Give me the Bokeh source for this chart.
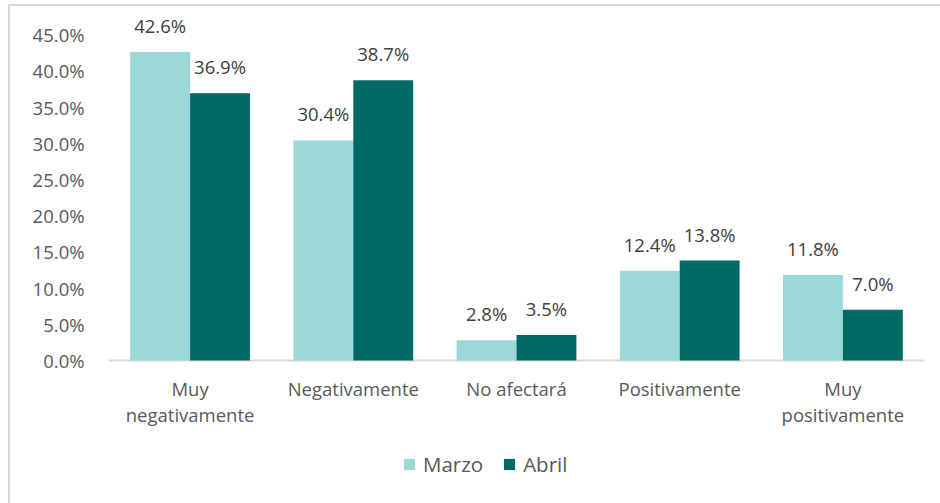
from bokeh.plotting import figure
from bokeh.models import (ColumnDataSource, FactorRange, Range1d, FixedTicker,
                          PrintfTickFormatter, LabelSet, Legend, LegendItem,
                          InlineStyleSheet, Span)
from bokeh.transform import dodge
from bokeh.core.properties import value
from bokeh.embed import file_html
from bokeh.resources import INLINE

categories = ["Muy\nnegativamente", "Negativamente", "No afectará",
              "Positivamente", "Muy\npositivamente"]
marzo = [42.6, 30.4, 2.8, 12.4, 11.8]
abril = [36.9, 38.7, 3.5, 13.8, 7.0]
series_names = ["Marzo", "Abril"]
y_ticks = [0, 5, 10, 15, 20, 25, 30, 35, 40, 45]

FONT = "Open Sans"
FS = "18.5px"
C_MARZO = "#9BD8D7"
C_ABRIL = "#016966"
C_TEXT = "#595959"

line1 = [c.split("\n")[0] for c in categories]
line2 = [c.split("\n")[1] if "\n" in c else "" for c in categories]

src = ColumnDataSource(dict(
    cat=categories,
    zero=[0] * len(categories),
    line1=line1,
    line2=line2,
    marzo=marzo,
    abril=abril,
    marzo_lbl=[f"{v:.1f}%" for v in marzo],
    abril_lbl=[f"{v:.1f}%" for v in abril],
))

border_css = InlineStyleSheet(css=""":host {
  background:
    linear-gradient(#d9d9d9, #d9d9d9) 8px 4px / 2px 100% no-repeat,
    linear-gradient(#d9d9d9, #d9d9d9) 8px 4px / 100% 2px no-repeat,
    #ffffff;
}""")

p = figure(x_range=FactorRange(*categories), y_range=Range1d(-18.93, 48.34),
           width=940, height=503, output_backend="svg", toolbar_location=None,
           min_border_left=108, min_border_right=16, min_border_top=10,
           min_border_bottom=6, stylesheets=[border_css])
p.border_fill_color = None
p.background_fill_color = None
p.outline_line_color = None
p.xgrid.grid_line_color = None
p.ygrid.grid_line_color = None
p.x_range.range_padding = 0
p.x_range.group_padding = 0
p.xaxis.visible = False

# category axis baseline
p.add_layout(Span(location=0, dimension="width", line_color="#d9d9d9",
                  line_width=2, level="underlay"))

bw = 0.367
r1 = p.vbar(x=dodge("cat", -bw / 2, range=p.x_range), top="marzo", width=bw,
            source=src, fill_color=C_MARZO, line_color=None)
r2 = p.vbar(x=dodge("cat", bw / 2, range=p.x_range), top="abril", width=bw,
            source=src, fill_color=C_ABRIL, line_color=None)

for col, off in (("marzo_lbl", -bw / 2), ("abril_lbl", bw / 2)):
    top = col.split("_")[0]
    lbl = LabelSet(x=dodge("cat", off, range=p.x_range), y=top, text=col,
                   source=src, text_align="center", text_baseline="alphabetic",
                   y_offset=19, text_font=value(FONT), text_font_size=FS,
                   text_color="#404040")
    p.add_layout(lbl)

# category labels under the baseline (each line centred)
for col, off in (("line1", -35.5), ("line2", -61.5)):
    p.add_layout(LabelSet(x="cat", y="zero", text=col, source=src,
                          text_align="center", text_baseline="alphabetic",
                          y_offset=off, text_font=value(FONT),
                          text_font_size=FS, text_color=C_TEXT))

p.yaxis.ticker = FixedTicker(ticks=y_ticks)
p.yaxis.formatter = PrintfTickFormatter(format="%.1f%%")
p.yaxis.axis_line_color = None
p.yaxis.major_tick_line_color = None
p.yaxis.minor_tick_line_color = None
p.yaxis.major_tick_out = 0
p.yaxis.minor_tick_out = 0
p.yaxis.major_label_standoff = 24
p.yaxis.major_label_text_font = FONT
p.yaxis.major_label_text_font_size = FS
p.yaxis.major_label_text_color = C_TEXT

legend = Legend(items=[LegendItem(label=series_names[0], renderers=[r1]),
                       LegendItem(label=series_names[1], renderers=[r2])],
                orientation="horizontal", location=(294, 19),
                glyph_width=14, glyph_height=14, label_standoff=7, spacing=19,
                padding=0, margin=0, border_line_color=None,
                background_fill_alpha=0,
                label_text_font=FONT, label_text_font_size="20.5px",
                label_text_color=C_TEXT)
p.add_layout(legend, "center")

open("out.html", "w").write(file_html(p, INLINE))
